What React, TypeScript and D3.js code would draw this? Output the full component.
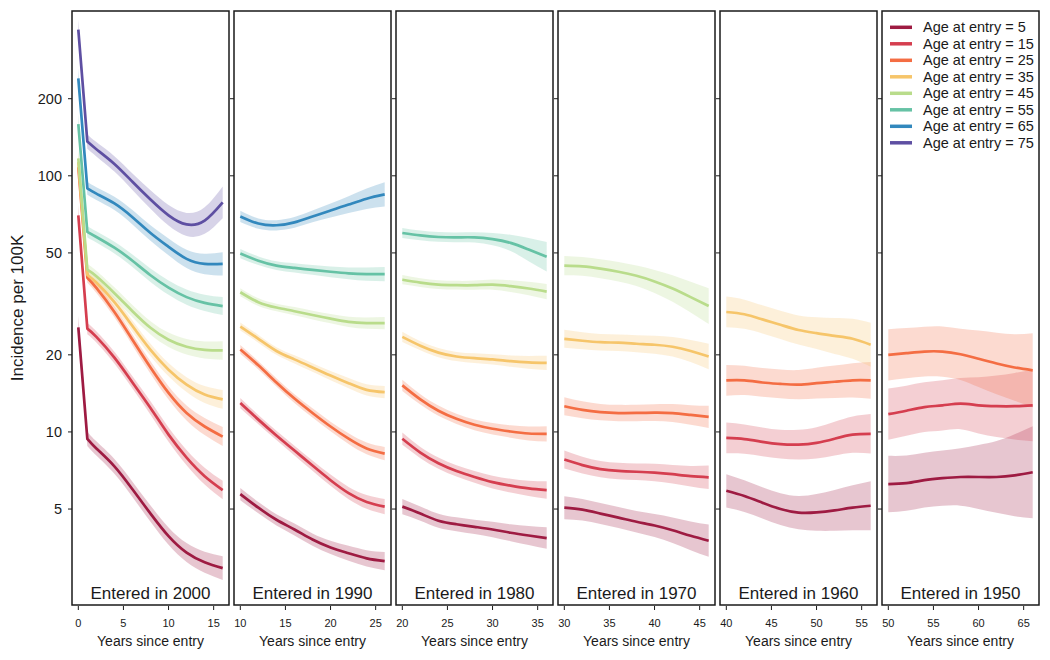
import React from 'react';
import * as d3 from 'd3';

// cohort-specific incidence curves
const ages = [5, 15, 25, 35, 45, 55, 65, 75];
const ageColors = ['#9e1b42', '#d53e4f', '#f46d43', '#f6c56a', '#b9dc8b', '#66c2a5', '#3288bd', '#5e4fa2'];

const cohortTitles = ['Entered in 2000', 'Entered in 1990', 'Entered in 1980', 'Entered in 1970', 'Entered in 1960', 'Entered in 1950'];
const cohortStart = [0, 10, 20, 30, 40, 50];
const xTicks = [[0, 5, 10, 15], [10, 15, 20, 25], [20, 25, 30, 35], [30, 35, 40, 45], [40, 45, 50, 55], [50, 55, 60, 65]];
const yTicks = [5, 10, 20, 50, 100, 200];

// years since cohort start
const years2000 = [0, 1, 2, 4, 6, 8, 10, 12, 14, 16];
const yearsOther = [0, 2, 4, 6, 8, 10, 12, 14, 16];

// estimates, one row per age at entry (5, 15, 25, ...)
const est2000 = [
  [25.6, 9.4, 8.62, 7.34, 5.97, 4.8, 3.92, 3.38, 3.1, 2.94],
  [70.1, 25.3, 23.5, 19.5, 15.6, 12.4, 9.76, 7.94, 6.72, 5.93],
  [108, 40, 36.5, 29.4, 22.9, 17.85, 14.2, 11.86, 10.5, 9.59],
  [113, 41, 38.3, 32.1, 25.9, 20.9, 17.5, 15.3, 14.0, 13.4],
  [117, 43, 40.5, 34.8, 29.6, 25.5, 22.9, 21.5, 20.9, 20.8],
  [159, 60.4, 57.7, 52.4, 46.6, 40.9, 36.6, 33.6, 31.9, 31.0],
  [240, 89.3, 85.2, 78.0, 68.9, 59.8, 52.8, 47.4, 45.3, 45.3],
  [372, 136, 127, 111.3, 94.8, 80.8, 70.1, 64.6, 66.9, 78.8],
];
const ci2000 = [
  [0.045, 0.028, 0.028, 0.029, 0.03, 0.032, 0.034, 0.037, 0.041, 0.046],
  [0.04, 0.022, 0.022, 0.023, 0.024, 0.026, 0.028, 0.03, 0.033, 0.036],
  [0.04, 0.02, 0.02, 0.021, 0.022, 0.024, 0.026, 0.029, 0.033, 0.037],
  [0.04, 0.02, 0.02, 0.021, 0.022, 0.024, 0.026, 0.029, 0.033, 0.037],
  [0.04, 0.022, 0.022, 0.023, 0.024, 0.026, 0.028, 0.03, 0.033, 0.036],
  [0.04, 0.022, 0.022, 0.023, 0.024, 0.026, 0.028, 0.03, 0.032, 0.035],
  [0.04, 0.025, 0.025, 0.026, 0.028, 0.03, 0.033, 0.036, 0.04, 0.045],
  [0.04, 0.028, 0.028, 0.03, 0.032, 0.036, 0.04, 0.045, 0.052, 0.062],
];

const est1990 = [
  [5.72, 5.06, 4.54, 4.16, 3.8, 3.54, 3.36, 3.21, 3.13],
  [12.96, 11.17, 9.69, 8.46, 7.39, 6.48, 5.77, 5.33, 5.11],
  [21.0, 18.2, 15.6, 13.5, 11.86, 10.5, 9.41, 8.62, 8.23],
  [25.8, 23.1, 20.7, 19.2, 17.85, 16.6, 15.5, 14.6, 14.3],
  [35.1, 32.1, 30.6, 29.6, 28.6, 27.7, 26.9, 26.6, 26.6],
  [49.7, 46.6, 44.6, 43.7, 42.9, 42.2, 41.6, 41.3, 41.3],
  [69.4, 65.1, 64.1, 65.8, 69.4, 73.2, 77.2, 81.4, 84.6],
];
const ci1990 = [
  [0.024, 0.022, 0.022, 0.023, 0.024, 0.026, 0.029, 0.032, 0.036],
  [0.02, 0.018, 0.018, 0.019, 0.02, 0.022, 0.024, 0.027, 0.03],
  [0.017, 0.016, 0.016, 0.017, 0.018, 0.019, 0.021, 0.023, 0.026],
  [0.016, 0.015, 0.015, 0.016, 0.017, 0.018, 0.02, 0.022, 0.024],
  [0.016, 0.015, 0.015, 0.016, 0.017, 0.018, 0.02, 0.022, 0.024],
  [0.018, 0.017, 0.017, 0.018, 0.019, 0.021, 0.023, 0.026, 0.028],
  [0.022, 0.02, 0.02, 0.021, 0.023, 0.027, 0.033, 0.04, 0.047],
];

const est1980 = [
  [5.11, 4.8, 4.5, 4.36, 4.26, 4.16, 4.04, 3.94, 3.85],
  [9.41, 8.31, 7.55, 7.04, 6.67, 6.37, 6.17, 6.02, 5.93],
  [15.2, 13.4, 12.1, 11.25, 10.66, 10.29, 10.04, 9.86, 9.83],
  [23.5, 21.7, 20.4, 19.7, 19.4, 19.2, 18.9, 18.7, 18.6],
  [39.3, 38.3, 37.6, 37.4, 37.4, 37.6, 37.1, 36.3, 35.3],
  [59.8, 58.5, 57.7, 57.5, 57.5, 56.6, 54.7, 51.5, 48.3],
];
const ci1980 = [
  [0.03, 0.028, 0.027, 0.027, 0.028, 0.03, 0.033, 0.037, 0.042],
  [0.024, 0.022, 0.022, 0.022, 0.023, 0.025, 0.027, 0.03, 0.034],
  [0.022, 0.02, 0.02, 0.02, 0.021, 0.022, 0.024, 0.027, 0.03],
  [0.02, 0.018, 0.018, 0.018, 0.019, 0.02, 0.022, 0.025, 0.028],
  [0.018, 0.017, 0.017, 0.017, 0.018, 0.02, 0.023, 0.026, 0.03],
  [0.02, 0.019, 0.019, 0.019, 0.02, 0.024, 0.032, 0.045, 0.058],
];

const est1970 = [
  [5.06, 4.97, 4.8, 4.63, 4.46, 4.31, 4.13, 3.93, 3.76],
  [7.8, 7.42, 7.16, 7.04, 6.99, 6.94, 6.84, 6.72, 6.65],
  [12.6, 12.2, 11.95, 11.85, 11.86, 11.9, 11.85, 11.65, 11.45],
  [23.1, 22.7, 22.4, 22.3, 22.1, 21.9, 21.5, 20.7, 19.7],
  [44.6, 44.3, 43.4, 42.2, 40.7, 38.7, 36.3, 33.6, 31.0],
];
const ci1970 = [
  [0.045, 0.042, 0.041, 0.041, 0.042, 0.045, 0.05, 0.056, 0.063],
  [0.035, 0.033, 0.032, 0.032, 0.032, 0.034, 0.036, 0.04, 0.046],
  [0.035, 0.033, 0.032, 0.032, 0.032, 0.033, 0.035, 0.038, 0.043],
  [0.035, 0.033, 0.032, 0.032, 0.033, 0.035, 0.038, 0.043, 0.05],
  [0.038, 0.037, 0.037, 0.038, 0.04, 0.045, 0.052, 0.06, 0.07],
];

const est1960 = [
  [5.89, 5.62, 5.29, 5.0, 4.84, 4.85, 4.94, 5.06, 5.15],
  [9.48, 9.38, 9.15, 8.96, 8.92, 9.06, 9.41, 9.76, 9.83],
  [15.9, 15.9, 15.6, 15.4, 15.3, 15.5, 15.7, 15.9, 15.9],
  [29.4, 28.8, 27.5, 26.2, 25.0, 24.3, 23.7, 23.1, 21.9],
];
const ci1960 = [
  [0.065, 0.062, 0.061, 0.062, 0.065, 0.072, 0.08, 0.088, 0.096],
  [0.06, 0.057, 0.056, 0.056, 0.058, 0.061, 0.066, 0.071, 0.077],
  [0.06, 0.057, 0.056, 0.056, 0.057, 0.06, 0.063, 0.067, 0.072],
  [0.06, 0.057, 0.055, 0.055, 0.057, 0.062, 0.07, 0.078, 0.086],
];

const est1950 = [
  [6.26, 6.31, 6.48, 6.6, 6.67, 6.67, 6.67, 6.77, 6.96],
  [11.73, 12.1, 12.5, 12.7, 12.9, 12.7, 12.6, 12.6, 12.7],
  [20.0, 20.3, 20.6, 20.6, 20.1, 19.3, 18.5, 17.85, 17.4],
];
const ci1950 = [
  [0.11, 0.108, 0.107, 0.108, 0.112, 0.125, 0.14, 0.16, 0.18],
  [0.1, 0.098, 0.097, 0.098, 0.1, 0.11, 0.12, 0.13, 0.14],
  [0.1, 0.098, 0.097, 0.098, 0.1, 0.11, 0.12, 0.13, 0.145],
];

const panels = [
  { years: years2000, est: est2000, ci: ci2000, kink: true },
  { years: yearsOther, est: est1990, ci: ci1990, kink: false },
  { years: yearsOther, est: est1980, ci: ci1980, kink: false },
  { years: yearsOther, est: est1970, ci: ci1970, kink: false },
  { years: yearsOther, est: est1960, ci: ci1960, kink: false },
  { years: yearsOther, est: est1950, ci: ci1950, kink: false },
];

const W = 1050;
const H = 660;
const left0 = 72;
const step = 162;
const panelW = 157;
const top = 11;
const bottom = 605;
const font = '"Liberation Sans", Arial, Helvetica, sans-serif';

type Pt = { x: number; v: number; c: number };

const yScale = d3.scaleLog().domain([2.11, 440]).range([bottom, top]);

function Panel({ idx }: { idx: number }) {
  const p = panels[idx];
  const left = left0 + idx * step;
  const start = cohortStart[idx];
  const xs = d3.scaleLinear().domain([start - 0.7, start + 16.7]).range([left, left + panelW]);

  const curve = d3.curveNatural;
  const line = d3.line<Pt>().x(d => xs(d.x)).y(d => yScale(d.v)).curve(curve);
  const area = d3
    .area<Pt>()
    .x(d => xs(d.x))
    .y0(d => yScale(d.v / Math.pow(10, d.c)))
    .y1(d => yScale(d.v * Math.pow(10, d.c)))
    .curve(curve);
  const areaLin = d3
    .area<Pt>()
    .x(d => xs(d.x))
    .y0(d => yScale(d.v / Math.pow(10, d.c)))
    .y1(d => yScale(d.v * Math.pow(10, d.c)));

  const series = p.est.map((row, i) => {
    const pts: Pt[] = row.map((v, j) => ({ x: start + p.years[j], v, c: p.ci[i][j] }));
    let lineD = line(pts)!;
    let bandD = area(pts)!;
    if (p.kink) {
      // straight drop over the first year, smooth afterwards
      const rest = pts.slice(1);
      lineD = `M${xs(pts[0].x)},${yScale(pts[0].v)}L` + line(rest)!.slice(1);
      bandD = areaLin(pts.slice(0, 2))! + area(rest)!;
    }
    return { lineD, bandD, color: ageColors[i] };
  });

  return (
    <g>
      {series.map((s, i) => (
        <path key={'b' + i} d={s.bandD} fill={s.color} fillOpacity={0.25} stroke="none" />
      ))}
      {series.map((s, i) => (
        <path key={'l' + i} d={s.lineD} fill="none" stroke={s.color} strokeWidth={2.7} strokeLinejoin="round" />
      ))}
      <rect x={left} y={top} width={panelW} height={bottom - top} fill="none" stroke="#1a1a1a" strokeWidth={1.5} />
      {yTicks.map(t => (
        <line key={'yt' + t} x1={left - 4} x2={left} y1={yScale(t)} y2={yScale(t)} stroke="#1a1a1a" strokeWidth={1} />
      ))}
      {idx === 0 &&
        yTicks.map(t => (
          <text key={'yl' + t} x={left - 10} y={yScale(t) + 5} textAnchor="end" fontSize={14.5} fill="#1a1a1a">
            {t}
          </text>
        ))}
      {xTicks[idx].map(t => (
        <g key={'xt' + t}>
          <line x1={xs(t)} x2={xs(t)} y1={bottom + 1} y2={bottom + 5} stroke="#1a1a1a" strokeWidth={1} />
          <text x={xs(t)} y={627} textAnchor="middle" fontSize={11} fill="#1a1a1a">
            {t}
          </text>
        </g>
      ))}
      <text x={left + panelW / 2} y={646} textAnchor="middle" fontSize={14} fill="#1a1a1a">
        Years since entry
      </text>
      <text x={left + panelW / 2} y={599} textAnchor="middle" fontSize={17} fill="#1a1a1a">
        {cohortTitles[idx]}
      </text>
    </g>
  );
}

function Legend() {
  const x = left0 + 5 * step + 8;
  return (
    <g>
      {ages.map((a, i) => {
        const y = 27.3 + i * 16.5;
        return (
          <g key={a}>
            <line x1={x} x2={x + 22} y1={y} y2={y} stroke={ageColors[i]} strokeWidth={3.5} />
            <text x={x + 33} y={y + 5} fontSize={14.5} fill="#1a1a1a">
              {`Age at entry = ${a}`}
            </text>
          </g>
        );
      })}
    </g>
  );
}

export default function App() {
  return (
    <svg
      width={W}
      height={H}
      style={{ position: 'absolute', left: 0, top: 0, background: '#fff' }}
      fontFamily={font}
    >
      <rect x={0} y={0} width={W} height={H} fill="#fff" />
      {panels.map((_, i) => (
        <Panel key={i} idx={i} />
      ))}
      <Legend />
      <text transform="translate(22.5,308) rotate(-90)" textAnchor="middle" fontSize={17} fill="#1a1a1a">
        Incidence per 100K
      </text>
    </svg>
  );
}
